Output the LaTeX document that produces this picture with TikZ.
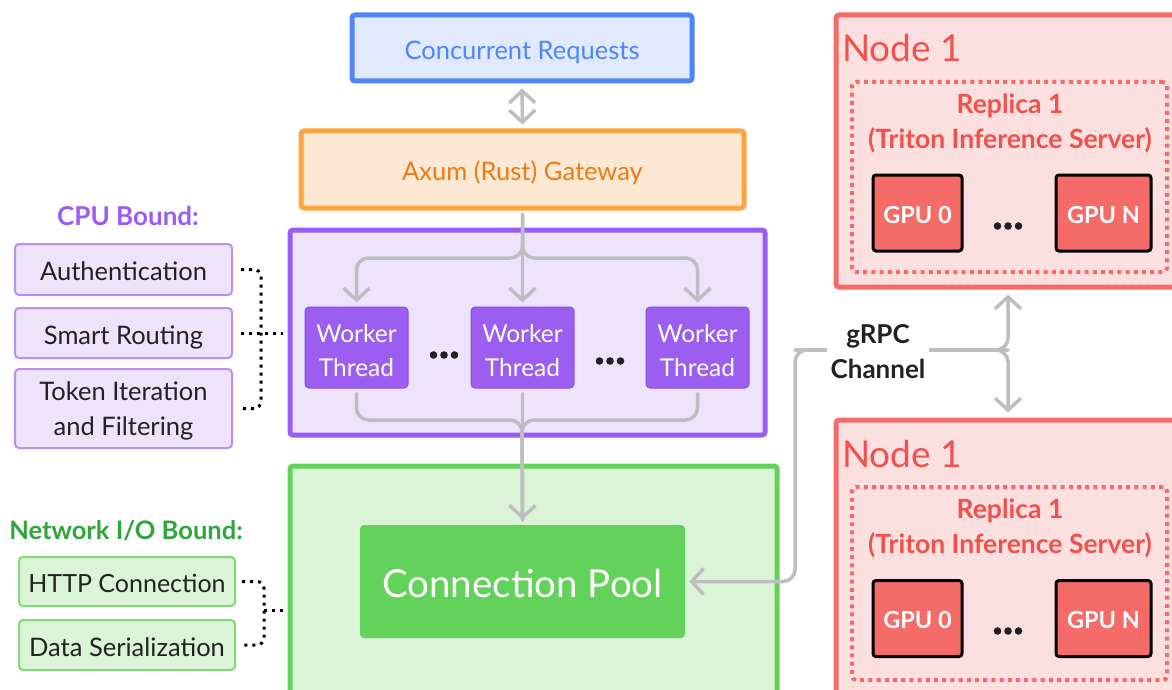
\documentclass[tikz,border=0pt]{standalone}
\usepackage{fontspec}
\setmainfont{Lato}
\usetikzlibrary{arrows.meta}
\definecolor{blueB}{HTML}{4F86F7}
\definecolor{blueF}{HTML}{E0E9FD}
\definecolor{orangeB}{HTML}{FFA53F}
\definecolor{orangeF}{HTML}{FDE8D3}
\definecolor{orangeT}{HTML}{EE7A14}
\definecolor{purpleB}{HTML}{9B5CF6}
\definecolor{purpleF}{HTML}{EDE3FB}
\definecolor{purpleS}{HTML}{B98FF6}
\definecolor{workerF}{HTML}{9B5EF1}
\definecolor{workerB}{HTML}{8A4EE6}
\definecolor{greenB}{HTML}{63D25B}
\definecolor{greenF}{HTML}{DBF4D7}
\definecolor{greenS}{HTML}{82D877}
\definecolor{greenT}{HTML}{2EA63A}
\definecolor{redB}{HTML}{F56B67}
\definecolor{redF}{HTML}{FCE0E0}
\definecolor{redT}{HTML}{F0514C}
\definecolor{grayc}{HTML}{BDBEC1}
\definecolor{darkT}{HTML}{222222}
\newcommand\twoline[3]{\raisebox{#1}[\height][\depth]{\begin{tabular}[t]{@{}c@{}}#2\\#3\end{tabular}}}
\tikzset{
  fs/.style={font=\fontsize{#1}{#1}\selectfont},
  tline/.style={text height=#1, text depth=0pt},
  bigbox/.style={draw, line width=5pt, rounded corners=3pt, inner sep=0pt},
  sidebox/.style={draw, line width=2pt, rounded corners=4pt, inner sep=0pt, text=darkT, fs=25.5},
  worker/.style={draw=workerB, line width=1pt, fill=workerF, rounded corners=4pt, minimum width=103pt, minimum height=81pt, text=white, inner sep=0pt, font=\fontsize{24.5}{34.5}\selectfont},
  gpu/.style={draw=black, line width=3pt, fill=redB, rounded corners=3pt, minimum height=76pt, text=white, font=\bfseries\fontsize{23.5}{26}\selectfont, inner sep=0pt, tline=20pt},
  replica/.style={draw=redB, line width=4pt, dash pattern=on 4pt off 4.2pt, rounded corners=4pt, minimum width=315pt, inner sep=0pt},
  flow/.style={draw=grayc, line width=3.5pt, line cap=round, line join=round, -{Straight Barb[length=12pt,width=26pt]}},
  dotconn/.style={draw=black, line width=3pt, dash pattern=on 3pt off 5pt, rounded corners=7pt},
  ellip/.pic={\foreach \dx in {-10.5,0,10.5} \fill[darkT] (\dx,0) circle (3.8pt);}
}
\begin{document}
\begin{tikzpicture}[x=1pt,y=-1pt]
\useasboundingbox (0,0) rectangle (1172,690);
\clip (0,0) rectangle (1172,690);

% top boxes
\node[bigbox, draw=blueB, fill=blueF, minimum width=340pt, minimum height=66pt, text=blueB, fs=25.5, tline=24pt] (req) at (522,48) {Concurrent Requests};
\node[bigbox, draw=orangeB, fill=orangeF, minimum width=443pt, minimum height=77pt, text=orangeT, fs=25.5, tline=21pt] (gw) at (522.5,169.5) {Axum (Rust) Gateway};

% purple container
\node[bigbox, draw=purpleB, fill=purpleF, minimum width=475pt, minimum height=205pt] (cpu) at (527.5,332.5) {};
\node[worker] (w1) at (356.5,347.5) {\twoline{-5pt}{Worker}{Thread}};
\node[worker] (w2) at (522.5,347.5) {\twoline{-5pt}{Worker}{Thread}};
\node[worker] (w3) at (697.5,347.5) {\twoline{-5pt}{Worker}{Thread}};
\pic at (444,355) {ellip};
\pic at (610,361) {ellip};

% green container
\node[bigbox, draw=greenB, fill=greenF, minimum width=487pt, minimum height=250pt] (net) at (533.5,591) {};
\node[draw=none, fill=greenB, rounded corners=4pt, minimum width=325pt, minimum height=113pt, text=white, fs=38.5, inner sep=0pt, tline=31pt] (pool) at (522.5,581.5) {Connection Pool};

% left side CPU
\node[text=purpleB, font=\bfseries\fontsize{26}{30}\selectfont, anchor=base] (cputitle) at (128,225) {CPU Bound:};
\node[sidebox, draw=purpleS, fill=purpleF, minimum width=217pt, minimum height=51pt, tline=21pt] (auth) at (123.5,269.5) {Authentication};
\node[sidebox, draw=purpleS, fill=purpleF, minimum width=217pt, minimum height=50pt, tline=22pt] (route) at (123.5,333) {Smart Routing};
\node[sidebox, draw=purpleS, fill=purpleF, minimum width=217pt, minimum height=79pt, font=\fontsize{25.5}{35}\selectfont] (token) at (123.5,408.5) {\twoline{-2pt}{Token Iteration}{and Filtering}};

% left side network
\node[text=greenT, font=\bfseries\fontsize{25.5}{30}\selectfont, anchor=base] (nettitle) at (126,539) {Network I/O Bound:};
\node[sidebox, draw=greenS, fill=greenF, minimum width=216pt, minimum height=49pt, fs=25, tline=21pt] (http) at (127,581.5) {HTTP Connection};
\node[sidebox, draw=greenS, fill=greenF, minimum width=216pt, minimum height=50pt, tline=22pt] (ser) at (127,645) {Data Serialization};

% right nodes
\node[bigbox, draw=redB, fill=redF, minimum width=344pt, minimum height=272pt] (node1) at (1008,151) {};
\node[anchor=base west, text=redT, fs=37, inner sep=0pt] (n1lab) at (842,62) {Node 1};
\node[replica, minimum height=190pt] (rep1) at (1009.5,177) {};
\node[text=redT, font=\bfseries\fontsize{26.5}{35}\selectfont, inner sep=0pt] (rep1lab) at (1010,124) {\twoline{0pt}{Replica 1}{(Triton Inference Server)}};
\node[gpu, minimum width=89pt] (g0a) at (917.5,213) {GPU 0};
\node[gpu, minimum width=95pt] (gna) at (1103.5,213) {GPU N};
\pic at (1008,226) {ellip};

\node[bigbox, draw=redB, fill=redF, minimum width=344pt, minimum height=280pt] (node2) at (1008,560) {};
\node[anchor=base west, text=redT, fs=37, inner sep=0pt] (n2lab) at (842,467) {Node 1};
\node[replica, minimum height=193pt] (rep2) at (1009.5,583.5) {};
\node[text=redT, font=\bfseries\fontsize{26.5}{35}\selectfont, inner sep=0pt] (rep2lab) at (1010,528.5) {\twoline{0pt}{Replica 1}{(Triton Inference Server)}};
\node[gpu, minimum width=89pt] (g0b) at (917.5,618.5) {GPU 0};
\node[gpu, minimum width=95pt] (gnb) at (1103.5,618.5) {GPU N};
\pic at (1008,631) {ellip};

% coordinates
\coordinate (split) at (522,258);
\coordinate (merge) at (522,420);
\coordinate (g1) at (795,350);
\coordinate (g2) at (1008,350);
\coordinate (cpujoin) at (261,333);
\coordinate (netjoin) at (264,610);

% gray connectors
\draw[flow, {Straight Barb[length=12pt,width=26pt]}-{Straight Barb[length=12pt,width=26pt]}] ([yshift=-5pt]req.south) -- ([yshift=4pt]gw.north);
\draw[flow, rounded corners=12pt] ([yshift=-4pt]gw.south) |- (w1.north |- split) -- ([yshift=4pt]w1.north);
\draw[flow, rounded corners=12pt] ([yshift=-4pt]gw.south) |- (w3.north |- split) -- ([yshift=4pt]w3.north);
\draw[flow] ([yshift=-4pt]gw.south) -- ([yshift=4pt]w2.north);
\draw[flow, -, rounded corners=12pt] ([yshift=-5pt]w1.south) |- (merge) -- ([yshift=5pt]pool.north);
\draw[flow, -, rounded corners=12pt] ([yshift=-5pt]w3.south) |- (merge) -- ([yshift=5pt]pool.north);
\draw[flow] ([yshift=-5pt]w2.south) -- ([yshift=5pt]pool.north);

\draw[flow, rounded corners=12pt] (g2) -- (g1) |- ([xshift=4pt]pool.east);
\draw[flow, rounded corners=12pt] (g1) -| ([yshift=-5pt]node1.south);
\draw[flow, rounded corners=12pt] (g1) -| ([yshift=5pt]node2.north);
\node[fill=white, text=darkT, font=\bfseries\fontsize{26}{35}\selectfont, inner xsep=4pt, inner ysep=0pt] (grpc) at (878,354) {\twoline{0pt}{gRPC}{Channel}};

% dotted brackets
\draw[dotconn] ([xshift=8pt]auth.east) -| (cpujoin) |- ([xshift=8pt]token.east);
\draw[dotconn] ([xshift=8pt]route.east) -- ([xshift=-5pt]cpu.west |- route.east);
\draw[dotconn] ([xshift=6pt]http.east) -| (netjoin) |- ([xshift=6pt]ser.east);
\draw[dotconn] (netjoin) -- ([xshift=-5pt]net.west |- netjoin);
\end{tikzpicture}
\end{document}
